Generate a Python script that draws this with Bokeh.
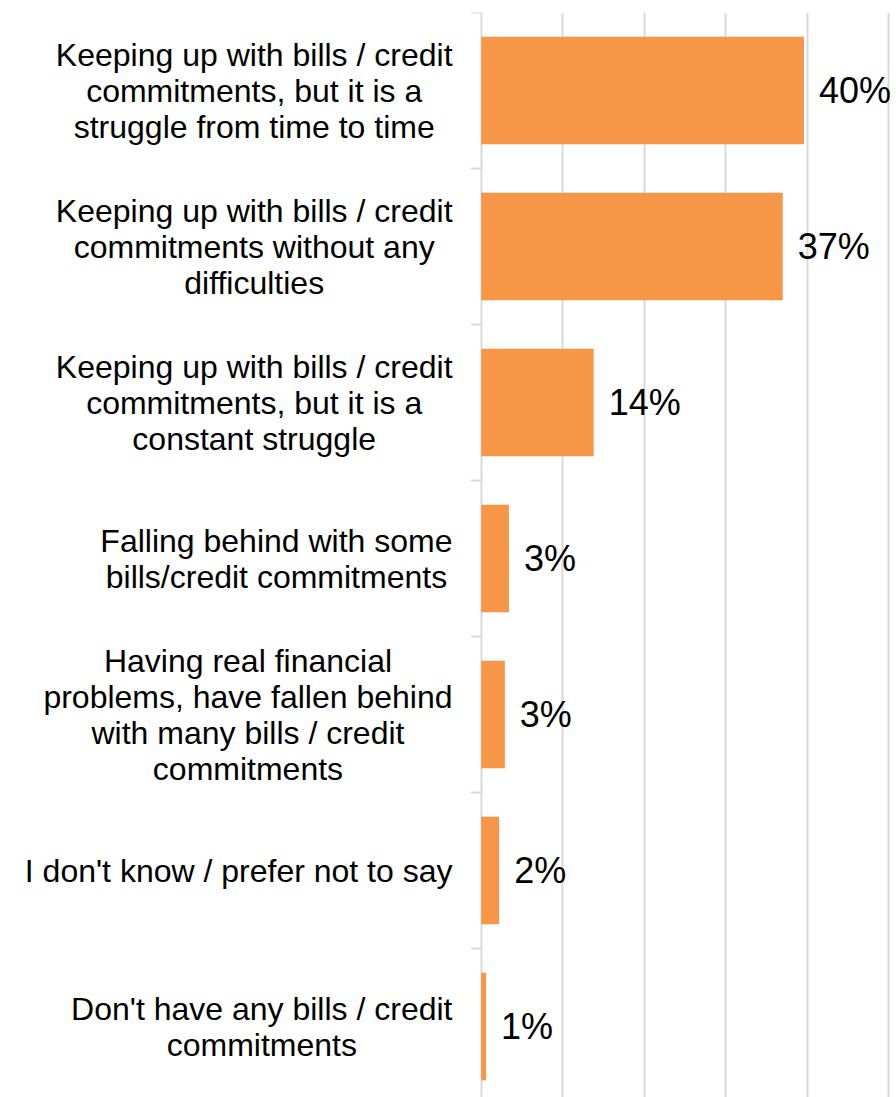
import math
from bokeh.plotting import figure
from bokeh.models import Range1d, FixedTicker, Grid
from bokeh.core.properties import value
from bokeh.embed import file_html
from bokeh.resources import INLINE

# ---------------- data ----------------
categories = [
    "Keeping up with bills / credit\ncommitments, but it is a\nstruggle from time to time",
    "Keeping up with bills / credit\ncommitments without any\ndifficulties",
    "Keeping up with bills / credit\ncommitments, but it is a\nconstant struggle",
    "Falling behind with some\nbills/credit commitments",
    "Having real financial\nproblems, have fallen behind\nwith many bills / credit\ncommitments",
    "I don't know / prefer not to say",
    "Don't have any bills / credit\ncommitments",
]
values = [39.6, 37.0, 13.8, 3.4, 2.9, 2.2, 0.6]
value_labels = ["40%", "37%", "14%", "3%", "3%", "2%", "1%"]
x_ticks = [0, 10, 20, 30, 40, 50]

# ---------------- layout ----------------
W, H = 896, 1097
TOP = 12
SLOT = 156.0
ZERO_PX = 480.7
PX_PER = 8.15
LABEL_RIGHT_PX = 452
LABEL_FONT_PX = 32
ORANGE = "#F79646"
GRID = "#d9d9d9"

# Arial / Liberation Sans advance widths (per 1000 em)
AW = {" ": 278, "'": 191, ",": 278, "/": 278, "a": 556, "b": 556, "c": 500, "d": 556,
      "e": 556, "f": 278, "g": 556, "h": 556, "i": 222, "k": 500, "l": 222, "m": 833,
      "n": 556, "o": 556, "p": 556, "r": 333, "s": 500, "t": 278, "u": 556, "v": 500,
      "w": 722, "y": 500, "D": 722, "F": 611, "H": 722, "I": 278, "K": 667}


def text_w(s):
    return sum(AW.get(ch, 556) for ch in s) / 1000.0 * LABEL_FONT_PX


n = len(categories)
centers = [i + 0.5 for i in range(n)]
label_x = []
for c in categories:
    mw = max(text_w(line) for line in c.split("\n"))
    cpx = LABEL_RIGHT_PX - mw / 2.0
    label_x.append((cpx - ZERO_PX) / PX_PER)

x_start = -ZERO_PX / PX_PER
x_end = (W - ZERO_PX) / PX_PER
y_bottom = (H - TOP) / SLOT

p = figure(width=W, height=H,
           x_range=Range1d(x_start, x_end),
           y_range=Range1d(start=y_bottom, end=0),
           x_axis_location=None, y_axis_location=None,
           output_backend="svg", toolbar_location=None,
           min_border_top=TOP, min_border_left=0, min_border_right=0, min_border_bottom=0,
           outline_line_color=None, background_fill_color="white", border_fill_color="white")
p.xgrid.grid_line_color = None
p.ygrid.grid_line_color = None

p.add_layout(Grid(dimension=0, ticker=FixedTicker(ticks=x_ticks),
                  grid_line_color=GRID, grid_line_width=2))

# category separator ticks
p.ray(x=[0] * (n + 1), y=list(range(n + 1)), length=10, length_units="screen",
      angle=math.pi, line_color=GRID, line_width=2)

p.hbar(y=centers, left=0, right=values, height=0.69, fill_color=ORANGE, line_color=None)

p.text(x=label_x, y=centers, text=categories, text_align="center", text_baseline="middle",
       text_font=value("Liberation Sans"), text_font_size=f"{LABEL_FONT_PX}px",
       text_line_height=1.0, text_color="#000000")

p.text(x=values, y=centers, text=value_labels, x_offset=15, text_align="left",
       text_baseline="middle", text_font=value("Liberation Sans"), text_font_size="36px",
       text_color="#000000")

open("out.html", "w").write(file_html(p, INLINE))
